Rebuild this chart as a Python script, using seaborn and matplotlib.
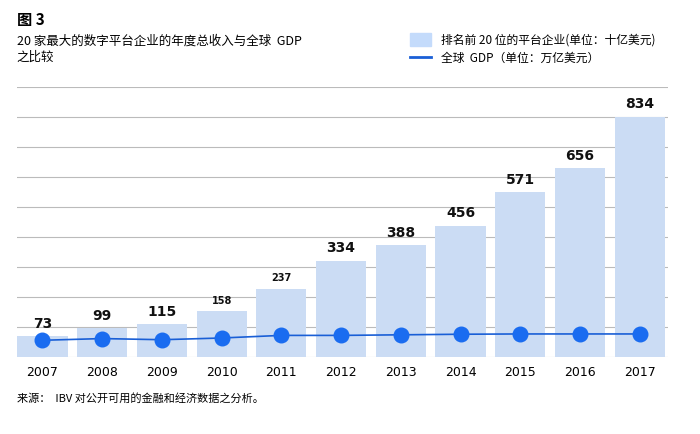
import matplotlib
matplotlib.use("Agg")
import matplotlib.pyplot as plt
import seaborn as sns
import pandas as pd
import numpy as np

years = ["2007","2008","2009","2010","2011","2012","2013","2014","2015","2016","2017"]
revenue = [73, 99, 115, 158, 237, 334, 388, 456, 571, 656, 834]
gdp = [58, 64, 60, 66, 75, 75, 77, 79, 80, 80, 80]

plt.rcParams["font.family"] = ["Noto Sans CJK SC"]
df = pd.DataFrame({"year": years, "rev": revenue, "gdp": gdp})

fig = plt.figure(figsize=(7, 4.35), dpi=100)
ax = fig.add_axes([0.024, 0.177, 0.93, 0.62])
sns.barplot(data=df, x="year", y="rev", color="#c4dbfb", width=0.84, ax=ax, zorder=2)
x = np.arange(len(years))
ax.plot(x, df["gdp"], color="#1a5fd6", lw=1.2, zorder=3)
ax.scatter(x, df["gdp"], s=110, color="#1a6cf0", zorder=4)

for i, v in enumerate(revenue):
    small = v in (158, 237)
    ax.text(i, v + 22, str(v), ha="center", va="bottom",
            fontsize=7 if small else 10, fontweight="bold", color="#111",
            fontfamily="DejaVu Sans")

ax.set_ylim(0, 936)
ax.set_xlim(-0.43, 10.47)
ax.set_yticks(np.arange(0, 937, 104))
ax.yaxis.grid(True, color="#bbbbbb", lw=0.8, zorder=0)
ax.set_yticklabels([])
ax.tick_params(axis="y", length=0)
ax.tick_params(axis="x", length=0, labelsize=9, pad=6)
for lab in ax.get_xticklabels():
    lab.set_fontfamily("DejaVu Sans")
ax.set_xlabel(""); ax.set_ylabel("")
for s in ax.spines.values():
    s.set_visible(False)

fig.text(0.024, 0.955, "图 3", fontsize=11, fontweight="bold", va="center")
fig.text(0.024, 0.905, "20 家最大的数字平台企业的年度总收入与全球  GDP", fontsize=9, va="center")
fig.text(0.024, 0.868, "之比较", fontsize=9, va="center")

fig.patches.append(plt.Rectangle((0.585, 0.893), 0.03, 0.028, transform=fig.transFigure, color="#c4dbfb"))
fig.text(0.63, 0.907, "排名前 20 位的平台企业(单位：十亿美元)", fontsize=8.5, va="center")
fig.lines.append(plt.Line2D([0.585, 0.615], [0.867, 0.867], transform=fig.transFigure, color="#1a5fd6", lw=2))
fig.text(0.63, 0.867, "全球  GDP（单位：万亿美元）", fontsize=8.5, va="center")

fig.text(0.024, 0.085, "来源：  IBV 对公开可用的金融和经济数据之分析。", fontsize=8, va="center")
fig.savefig("out.png", dpi=100)
